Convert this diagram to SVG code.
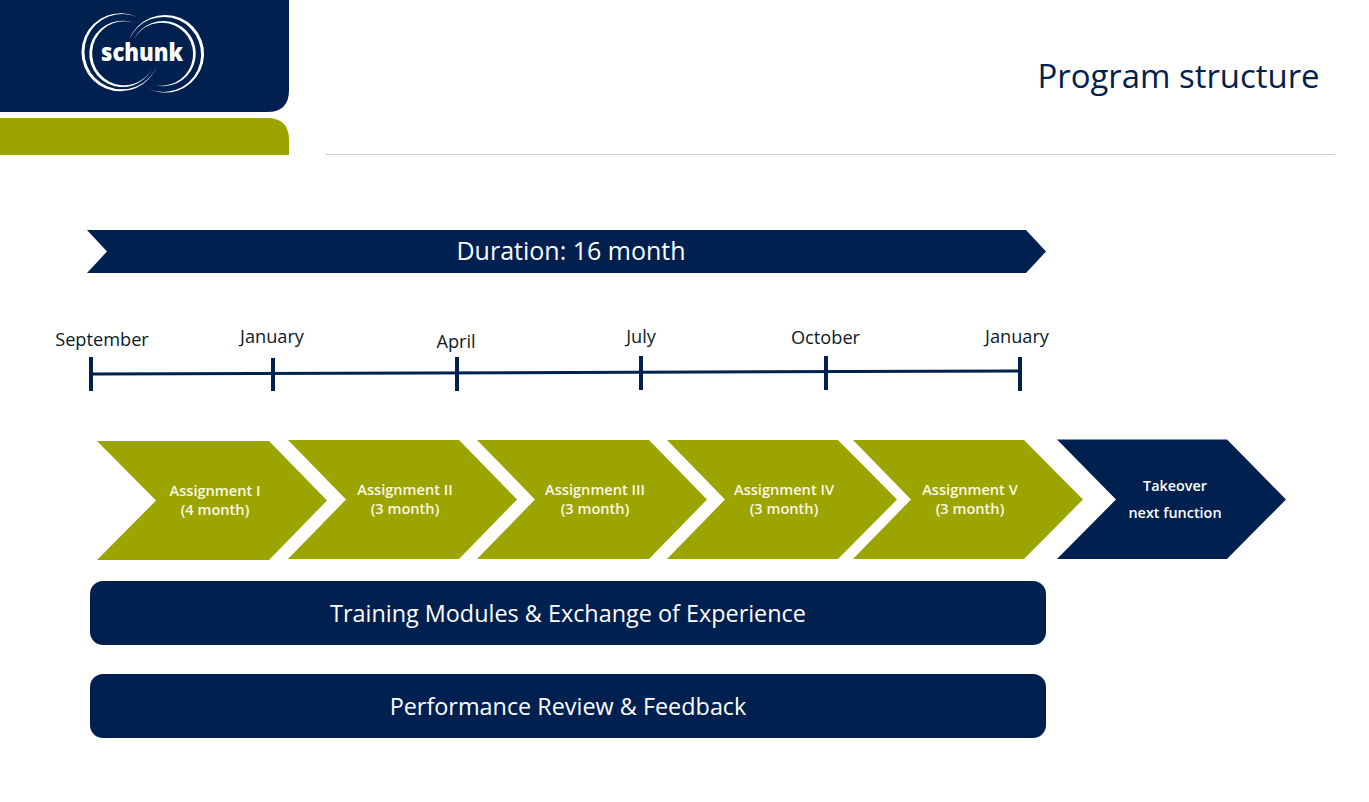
<svg xmlns="http://www.w3.org/2000/svg" width="1369" height="802" viewBox="0 0 1369 802">
<style>
text{font-family:"Open Sans","Noto Sans","Liberation Sans",sans-serif;text-anchor:middle}
.navy{fill:#002050}
.olive{fill:#9ca400}
.w{fill:#fff}
.bar{font-size:23.400px;fill:#fff}
.mon{font-size:18.200px;fill:#0c1a2c}
.as{font-size:14.600px;fill:#fbf9e6;font-weight:600}
.tk{font-size:14.400px;fill:#fff;font-weight:600}
.tick{stroke:#002050;stroke-width:4;fill:none}
</style>
<rect width="1369" height="802" fill="#fff"/>
<g id="header">
<path class="navy" d="M0 0H289V90Q289 112 267 112H0Z"/>
<path class="olive" d="M0 118H267Q289 118 289 140V155H0Z"/>
<line x1="326" y1="154.500" x2="1335" y2="154.500" stroke="#cfcfcf" stroke-width="1"/>
</g>
<g id="logo">
<path class="w" d="M137 17A39 39 0 1 0 157 66A37.700 37.700 0 1 1 137 17Z"/>
<path class="w" d="M137 24A33.200 33.200 0 1 0 152 69A32 32 0 1 1 137 24Z"/>
<path class="w" d="M129 40A38.800 38.800 0 1 1 147 88A37.500 37.500 0 1 0 129 40Z"/>
<path class="w" d="M134 39A32.600 32.600 0 1 1 153 84.500A31.500 31.500 0 1 0 134 39Z"/>
<text x="142" y="61" style="font-size:25px;font-weight:800;fill:#fff" textLength="82" lengthAdjust="spacingAndGlyphs">schunk</text>
</g>
<g id="title"><text x="1178.500" y="88" style="font-size:32.900px;fill:#002050">Program structure</text></g>
<g id="duration">
<path class="navy" d="M87 230H1026L1046 251.500L1026 273H87L107 251.500Z"/>
<text x="571" y="260" style="font-size:25px;fill:#fff">Duration: 16 month</text>
</g>
<g id="connectors">
<path class="tick" style="stroke-width:3" d="M91 374L1020 371"/>
<path class="tick" d="M91 357V391M273 358V391M457 357V391M641 356V390M826 356V390M1020 357V391"/>
</g>
<g id="months">
<text class="mon" x="102" y="346">September</text>
<text class="mon" x="272" y="343">January</text>
<text class="mon" x="456" y="348">April</text>
<text class="mon" x="641" y="343">July</text>
<text class="mon" x="825.500" y="344">October</text>
<text class="mon" x="1017" y="343">January</text>
</g>
<g id="assignment1">
<path class="olive" d="M97 441H269L327 500.500L269 560H97L156 500.500Z"/>
<text class="as" x="215" y="496">Assignment I</text><text class="as" x="215" y="515">(4 month)</text>
</g>
<g id="assignment2">
<path class="olive" d="M288 440H459L517 499.500L459 559H288L346 499.500Z"/>
<text class="as" x="405" y="495">Assignment II</text><text class="as" x="405" y="514">(3 month)</text>
</g>
<g id="assignment3">
<path class="olive" d="M477 440H649L707 499.500L649 559H477L535 499.500Z"/>
<text class="as" x="595" y="495">Assignment III</text><text class="as" x="595" y="514">(3 month)</text>
</g>
<g id="assignment4">
<path class="olive" d="M667 440H838L897 499.500L838 559H667L725 499.500Z"/>
<text class="as" x="784" y="495">Assignment IV</text><text class="as" x="784" y="514">(3 month)</text>
</g>
<g id="assignment5">
<path class="olive" d="M853 440H1024L1083 499.500L1024 559H853L911 499.500Z"/>
<text class="as" x="970" y="495">Assignment V</text><text class="as" x="970" y="514">(3 month)</text>
</g>
<g id="takeover">
<path class="navy" d="M1057 439.500H1227L1286 499.500L1227 559H1057L1116 499.500Z"/>
<text class="tk" x="1175" y="491">Takeover</text><text class="tk" x="1175" y="518">next function</text>
</g>
<g id="training">
<rect class="navy" x="90" y="581" width="956" height="64" rx="13"/>
<text class="bar" x="568" y="622">Training Modules &amp; Exchange of Experience</text>
</g>
<g id="performance">
<rect class="navy" x="90" y="674" width="956" height="64" rx="13"/>
<text class="bar" x="568" y="715">Performance Review &amp; Feedback</text>
</g>
</svg>
